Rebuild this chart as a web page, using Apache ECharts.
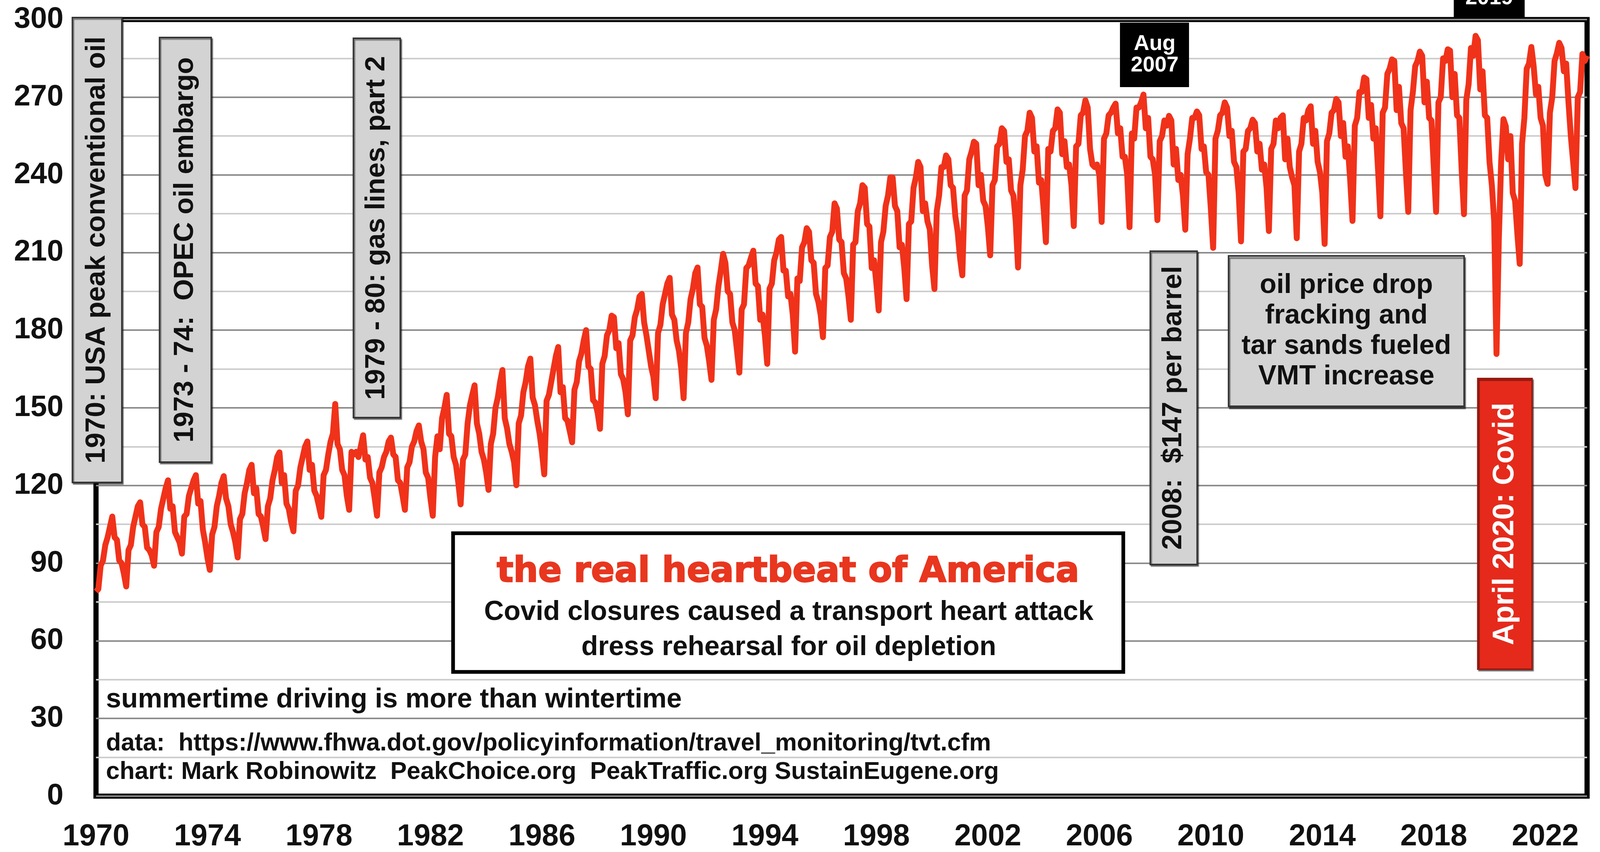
<!DOCTYPE html>
<html>
<head>
<meta charset="utf-8">
<script src="https://cdn.jsdelivr.net/npm/echarts@6/dist/echarts.min.js"></script>
<style>
html,body{margin:0;padding:0;background:#fff;overflow:hidden;}
#c{width:100vw;height:100vh;}
</style>
</head>
<body>
<div id="c"></div>
<script>
// ---------------- data (billions of vehicle miles per month) ----------------
const startYear = 1970;           // first point = January 1970, one value per month
const vmt1970s = [
  79, 80, 89, 91, 97, 100, 104, 108, 100, 99, 91, 90,
  86, 81, 95, 97, 104, 108, 112, 113.5, 105, 104, 96, 95,
  93, 89, 102, 104, 111, 115, 119, 122, 111, 112, 102, 100,
  98, 93.7, 108, 109, 116, 119, 122, 124, 113, 114, 103, 98,
  92, 87.4, 101, 104, 112, 116, 121, 123.6, 115, 112, 105, 102,
  98, 92.2, 107, 109, 117, 121, 126, 128, 117, 119, 109, 108,
  104, 99.3, 112, 115, 122, 126, 131, 132.8, 121, 124, 113, 111,
  106, 102.3, 118, 120, 127, 131, 135, 137, 126, 128, 118, 116,
  112, 107.9, 124, 126, 132, 137, 140, 151.5, 136, 134, 126, 124,
  116, 110.6, 133, 132, 133, 131, 135, 139.4, 130, 131, 123, 121
];
const vmt1980s = [
  115, 108.3, 125, 127, 131, 133, 137, 138.5, 132, 131, 122, 121,
  116, 110.6, 127, 129, 135, 137, 141, 143.2, 137, 134, 125, 123,
  115, 108.3, 131, 139, 134, 146, 150, 155, 140, 139, 131, 128,
  121, 112.7, 130, 132, 144, 151, 155, 158.7, 144, 140, 133, 130,
  125, 118.3, 136, 140, 150, 154, 160, 164.6, 146, 142, 136, 133,
  129, 120.1, 144, 147, 156, 160, 166, 169, 154, 151, 145, 140,
  133, 124.3, 152.7, 155, 160, 165, 170, 173.5, 156, 158, 146, 145,
  141, 136.7, 157, 160, 168, 171, 176, 180, 166, 165, 153, 152,
  148, 141.9, 167, 170, 178, 180, 185.6, 185, 173, 175, 163, 161,
  156, 147.5, 176, 178, 185, 188, 193, 194, 183, 178, 172, 166
];
const vmt1990s = [
  162, 153.7, 179, 182, 190, 194, 198, 200.2, 186, 184, 176, 172,
  165, 153.7, 179, 183, 192, 196, 202, 204.2, 190, 189, 177, 174,
  168, 160.8, 184, 188, 197, 203, 209.5, 206, 195, 194, 183, 180,
  172, 163.6, 188, 190, 204, 205, 208, 210.7, 198, 197, 184, 186,
  178, 167, 196, 198, 207, 210, 215, 216, 203, 203, 193, 194,
  186, 171.7, 200, 199, 212, 214, 219.4, 218, 207, 206, 194, 191,
  186, 177.3, 204, 205, 216, 218, 229, 227, 215, 214, 202, 200,
  193, 184, 213, 214, 226, 229, 236, 235, 221, 220, 204, 207,
  198, 187.6, 214, 218, 228, 232, 239, 239, 228, 226, 212, 213,
  204, 192, 221, 222, 235, 239, 245, 243, 226, 229, 222, 219
];
const vmt2000s = [
  205, 195.9, 226, 232, 243, 243, 247.5, 246, 236, 235, 224, 218,
  208, 201.2, 232, 234, 246, 249, 252.8, 252, 236, 240, 230, 228,
  220, 208.9, 236, 238, 251, 252, 258, 257, 245, 246, 234, 232,
  222, 204.2, 236, 242, 255, 257, 264, 262, 249, 251, 237, 238,
  227, 214, 250, 249, 257, 258, 265.3, 264, 248, 253, 243, 244,
  236, 220.2, 251, 252, 263, 264, 268.8, 266, 250, 244, 243, 244,
  240, 221.8, 254, 256, 263, 264, 266, 267.5, 256, 258, 247, 247,
  240, 219.8, 256, 254, 266, 266, 268, 271, 258, 262, 247, 246,
  240, 222.5, 253, 255, 261, 259, 262.8, 261, 244, 250, 238, 240,
  232, 218.8, 248, 254, 262, 262, 264.5, 263, 250, 251, 241, 240
];
const vmt2010s = [
  227, 211.8, 254, 257, 263, 264, 268, 266, 255, 257, 245, 243,
  233, 214.3, 249, 250, 257, 258, 261.3, 260, 249, 252, 242, 244,
  235, 218.3, 250, 252, 261, 258, 262, 263, 246, 254, 243, 239,
  236, 215.5, 249, 252, 262, 261, 265, 266.5, 252, 257, 245, 241,
  233, 213.3, 253, 256, 264, 265, 269.3, 268, 255, 260, 247, 251,
  238, 222.2, 259, 262, 272, 272, 277.6, 277, 262, 267, 254, 258,
  242, 224, 264, 266, 279, 281, 284.6, 284, 265, 274, 260, 258,
  241, 225.7, 265, 272, 282, 284, 287.6, 286, 268, 276, 262, 261,
  243, 225.7, 268, 270, 285, 284, 288.5, 288, 270, 279, 263, 262,
  242, 224.8, 269, 275, 289, 286, 293.7, 292, 273, 280, 263, 262
];
const vmt2020s = [
  245, 236, 222, 170.8, 215, 245, 261.5, 258.8, 246, 255, 233, 230,
  217, 205.6, 252, 262, 281, 283, 289.4, 282, 271, 274, 262, 259,
  240, 236.5, 264, 270, 284, 287, 291, 289, 280, 283, 268, 255,
  245, 234.9, 270, 272, 286.7, 284, 286
];
const xTickYears = [1970, 1974, 1978, 1982, 1986, 1990, 1994, 1998, 2002, 2006, 2010, 2014, 2018, 2022];
const yTickLabels = [0, 30, 60, 90, 120, 150, 180, 210, 240, 270, 300];

// ---------------- layout scaling (design size 4333 x 2181) ----------------
const W = window.innerWidth || 4333, H = window.innerHeight || 2181;
const sx = W / 4333, sy = H / 2181, s = Math.min(sx, sy);
const X = v => v * sx, Y = v => v * sy, F = v => Math.round(v * s);

// ---------------- chart ----------------
const monthly = [].concat(vmt1970s, vmt1980s, vmt1990s, vmt2000s, vmt2010s, vmt2020s);
const seriesData = monthly.map((v, i) => [i, v]);
const lastIndex = monthly.length - 1;

const FONT = '"Liberation Sans", Arial, Helvetica, sans-serif';
const GRAY = '#d3d3d3';
const RED = '#f0321a';

function vbox(x, y, w, h, text, fill, stroke, color, fs) {
  return [
    { type: 'rect', z: 100, shape: { x: X(x), y: Y(y), width: X(w), height: Y(h) },
      style: { fill: fill, stroke: stroke, lineWidth: 4 * s,
               shadowColor: 'rgba(0,0,0,0.45)', shadowOffsetX: 3 * s, shadowOffsetY: 4 * s, shadowBlur: 2 } },
    { type: 'text', z: 101, x: X(x + w / 2), y: Y(y + h / 2), rotation: Math.PI / 2,
      style: { text: text, fill: color, font: 'bold ' + F(fs) + 'px ' + FONT, align: 'center', verticalAlign: 'middle' } }
  ];
}
function label(x, y, text, fs, color, align, family, lh, heavy) {
  const st = { text: text, fill: color, font: 'bold ' + F(fs) + 'px ' + (family || FONT),
               align: align || 'center', verticalAlign: 'middle', lineHeight: F(lh || fs) };
  if (heavy) { st.stroke = color; st.lineWidth = heavy * s; }
  return { type: 'text', z: 102, x: X(x), y: Y(y), style: st };
}

const graphics = [].concat(
  vbox(196, 45, 134, 1190, '1970: USA peak conventional oil', GRAY, '#333', '#111', 75),
  vbox(432, 96, 140, 1087, '1973 - 74:  OPEC oil embargo', GRAY, '#333', '#111', 75),
  vbox(957, 98, 127, 971, '1979 - 80: gas lines, part 2', GRAY, '#333', '#111', 75),
  vbox(3115, 643, 127, 802, '2008:  $147 per barrel', GRAY, '#333', '#111', 75),
  vbox(4002, 969, 147, 744, 'April 2020: Covid', '#e52a1c', '#9a1a10', '#ffffff', 80),
  [
    { type: 'rect', z: 100, shape: { x: X(3327), y: Y(655), width: X(638), height: Y(385) },
      style: { fill: GRAY, stroke: '#333', lineWidth: 4 * s,
               shadowColor: 'rgba(0,0,0,0.5)', shadowOffsetX: 3 * s, shadowOffsetY: 6 * s, shadowBlur: 2 } },
    label(3646, 848, 'oil price drop\nfracking and\ntar sands fueled\nVMT increase', 74, '#111', 'center', null, 82),
    { type: 'rect', z: 100, shape: { x: X(1227), y: Y(1365), width: X(1815), height: Y(355) },
      style: { fill: '#ffffff', stroke: '#000', lineWidth: 10 * s } },
    label(2134, 1466, 'the real heartbeat of America', 94, '#e8361f', 'center', '"DejaVu Sans", Verdana, sans-serif', null, 3),
    label(2136, 1568, 'Covid closures caused a transport heart attack', 74, '#111'),
    label(2136, 1658, 'dress rehearsal for oil depletion', 74, '#111'),
    label(287, 1792, 'summertime driving is more than wintertime', 74, '#111', 'left'),
    label(287, 1904, 'data:  https://www.fhwa.dot.gov/policyinformation/travel_monitoring/tvt.cfm', 67, '#111', 'left'),
    label(287, 1977, 'chart: Mark Robinowitz  PeakChoice.org  PeakTraffic.org SustainEugene.org', 67, '#111', 'left'),
    { type: 'rect', z: 100, shape: { x: X(3033), y: Y(58), width: X(187), height: Y(165) }, style: { fill: '#000' } },
    label(3127, 140, 'Aug\n2007', 58, '#ffffff', 'center', null, 58),
    { type: 'rect', z: 100, shape: { x: X(3937), y: Y(-10), width: X(192), height: Y(55) }, style: { fill: '#000' } },
    label(4033, -4, '2019', 58, '#ffffff')
  ]
);

const chart = echarts.init(document.getElementById('c'), null, { renderer: 'canvas' });
chart.setOption({
  animation: false,
  backgroundColor: '#ffffff',
  grid: { left: X(260), right: X(35), top: Y(50), bottom: Y(143), show: true,
          borderColor: '#000', borderWidth: 14 * s, backgroundColor: 'transparent' },
  xAxis: {
    type: 'value', min: 0, max: lastIndex, interval: 48,
    axisLine: { show: false }, axisTick: { show: false }, splitLine: { show: false },
    axisLabel: {
      margin: Y(66), fontSize: F(81), fontWeight: 'bold', color: '#111', fontFamily: FONT,
      showMaxLabel: false,
      formatter: function (v) {
        const y = startYear + v / 12;
        return xTickYears.indexOf(y) >= 0 ? String(y) : '';
      }
    }
  },
  yAxis: {
    type: 'value', min: 0, max: 300, interval: 15,
    axisLine: { show: false }, axisTick: { show: false },
    splitLine: { show: true, lineStyle: { color: ['#8c8c8c', '#cdcdcd'], width: 4 * s } },
    axisLabel: {
      margin: X(88), fontSize: F(80), fontWeight: 'bold', color: '#111', fontFamily: FONT,
      formatter: function (v) { return yTickLabels.indexOf(v) >= 0 ? String(v) : ''; }
    }
  },
  series: [{
    type: 'line', data: seriesData, showSymbol: false, symbol: 'none',
    lineStyle: { color: RED, width: 16 * s, join: 'round' }, z: 5
  }],
  graphic: graphics
});
window.addEventListener('resize', () => chart.resize());
</script>
</body>
</html>
